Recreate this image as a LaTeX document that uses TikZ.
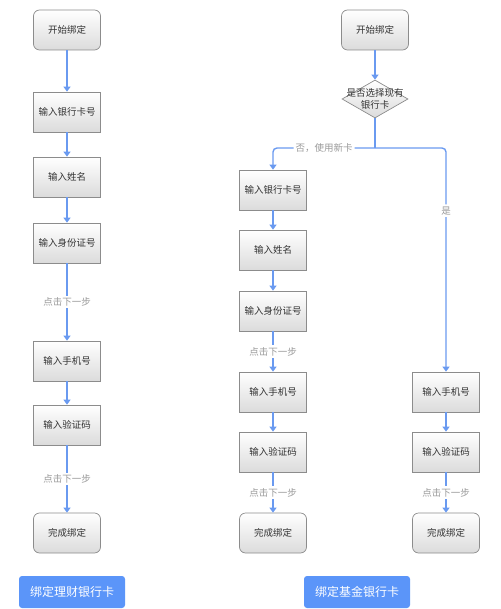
\documentclass[tikz,border=0pt]{standalone}
\usepackage{fontspec}
\usepackage{tikz}
\usetikzlibrary{positioning,arrows.meta,shapes.geometric}
\newfontfamily\cjk{Noto Sans CJK SC}

\definecolor{lineblue}{HTML}{6A9AF0}
\definecolor{btnblue}{HTML}{5B95F9}
\definecolor{boxline}{HTML}{8C8C8C}
\definecolor{boxtext}{HTML}{333333}
\definecolor{tagtext}{HTML}{9A9A9A}

\tikzset{
  box/.style={draw=boxline,line width=0.7pt,top color=white,bottom color=gray!28,
    minimum width=67pt,minimum height=40pt,inner sep=0pt,
    font=\cjk\fontsize{9.5}{11}\selectfont,text=boxtext},
  endbox/.style={box,rounded corners=6pt},
  ask/.style={draw=boxline,line width=0.7pt,top color=white,bottom color=gray!28,
    shape=diamond,minimum width=66pt,minimum height=38pt,inner sep=0pt},
  asktext/.style={font=\cjk\fontsize{9.5}{12}\selectfont,text=boxtext,align=center},
  arr/.style={draw=lineblue,line width=1.4pt,-{Triangle[width=7pt,length=5pt]}},
  link/.style={draw=lineblue,line width=1.4pt},
  tag/.style={fill=white,inner sep=2pt,font=\cjk\fontsize{9.5}{11}\selectfont,text=tagtext},
  btn/.style={fill=btnblue,rounded corners=3pt,minimum width=106pt,minimum height=32pt,
    inner sep=0pt,font=\cjk\fontsize{12}{14}\selectfont,text=white}
}

\begin{document}
\begin{tikzpicture}[x=1pt,y=-1pt]
\useasboundingbox (0,0) rectangle (500,609);

% left column: financial card
\node[endbox] (ls) at (67,30) {开始绑定};
\node[box] (lcard) at (67,112) {输入银行卡号};
\node[box] (lname) at (67,177) {输入姓名};
\node[box] (lid) at (67,243) {输入身份证号};
\node[box] (lphone) at (67,361) {输入手机号};
\node[box] (lcode) at (67,425) {输入验证码};
\node[endbox] (le) at (67,533) {完成绑定};
\node[btn] (lbtn) at (72,592) {绑定理财银行卡};

\draw[arr] (ls) -- (lcard);
\draw[arr] (lcard) -- (lname);
\draw[arr] (lname) -- (lid);
\draw[arr] (lid) -- node[tag] {点击下一步} (lphone);
\draw[arr] (lphone) -- (lcode);
\draw[arr] (lcode) -- node[tag] {点击下一步} (le);

% right part: fund card
\node[endbox] (rs) at (375,30) {开始绑定};
\node[ask] (q) at (375,99) {};
\node[asktext] (qt) at (q) {是否选择现有\\银行卡};
\coordinate (fork) at (375,148);

\node[box] (mcard) at (273,190) {输入银行卡号};
\node[box] (mname) at (273,250) {输入姓名};
\node[box] (mid) at (273,311) {输入身份证号};
\node[box] (mphone) at (273,392) {输入手机号};
\node[box] (mcode) at (273,452) {输入验证码};
\node[endbox] (me) at (273,533) {完成绑定};

\node[box] (rphone) at (446,392) {输入手机号};
\node[box] (rcode) at (446,452) {输入验证码};
\node[endbox] (re) at (446,533) {完成绑定};
\node[btn] (rbtn) at (357,592) {绑定基金银行卡};

\draw[arr] (rs) -- (q);
\draw[link] (q) -- (fork);
\draw[arr,rounded corners=4pt] (fork) -| node[tag,pos=0.25] {否，使用新卡} (mcard);
\draw[arr,rounded corners=4pt] (fork) -| node[tag,pos=0.64] {是} (rphone);

\draw[arr] (mcard) -- (mname);
\draw[arr] (mname) -- (mid);
\draw[arr] (mid) -- node[tag] {点击下一步} (mphone);
\draw[arr] (mphone) -- (mcode);
\draw[arr] (mcode) -- node[tag] {点击下一步} (me);

\draw[arr] (rphone) -- (rcode);
\draw[arr] (rcode) -- node[tag] {点击下一步} (re);
\end{tikzpicture}
\end{document}
